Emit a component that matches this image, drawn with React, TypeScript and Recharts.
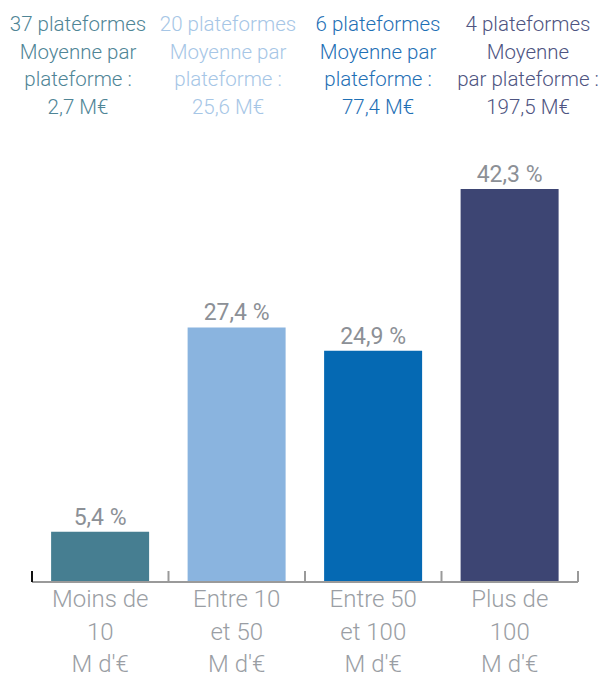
import React from 'react';
import { BarChart, Bar, XAxis, YAxis, Cell, LabelList } from 'recharts';

const CATEGORIES = ["Moins de\n10\nM d'€", "Entre 10\net 50\nM d'€", "Entre 50\net 100\nM d'€", "Plus de\n100\nM d'€"];
const SHARES = [5.4, 27.4, 24.9, 42.3];
const BAR_COLORS = ['#467e91', '#8ab4df', '#0569b3', '#3d4573'];
const HEADER_COLORS = ['#4f8596', '#a6c6e6', '#1f70b5', '#4e5481'];
const HEADER_LINES = [
  ['37 plateformes', 'Moyenne par', 'plateforme :', '2,7 M€'],
  ['20 plateformes', 'Moyenne par', 'plateforme :', '25,6 M€'],
  ['6 plateformes', 'Moyenne par', 'plateforme :', '77,4 M€'],
  ['4 plateformes', 'Moyenne', 'par plateforme :', '197,5 M€'],
];

const FONT = 'Roboto, "Liberation Sans", sans-serif';
const GREY = '#8c9096';
const AXIS_GREY = '#9a9a9a';

const data = CATEGORIES.map((c, i) => ({ cat: c, value: SHARES[i] }));

// label lines plus the small upward ticks at the band edges
const CategoryTick = (props: any) => {
  const { x, y, payload, index, width, visibleTicksCount } = props;
  const band = width / visibleTicksCount;
  const left = x - band / 2;
  const right = x + band / 2;
  const lines = String(payload.value).split('\n');
  return (
    <g>
      <line x1={left} x2={left} y1={y - 11} y2={y} stroke={index === 0 ? '#111' : AXIS_GREY} strokeWidth={2} />
      {index === visibleTicksCount - 1 && (
        <line x1={right} x2={right} y1={y - 11} y2={y} stroke={AXIS_GREY} strokeWidth={2} />
      )}
      <text x={x} y={y} textAnchor="middle" fill="#9a9ea4" fontFamily={FONT} fontWeight={300} fontSize={24}>
        {lines.map((l, i) => (
          <tspan key={i} x={x} dy={i === 0 ? 25 : 32.5}>{l}</tspan>
        ))}
      </text>
    </g>
  );
};

export default function App() {
  return (
    <div style={{ position: 'absolute', left: 0, top: 0, width: 602, height: 679, background: '#fff' }}>
      <div style={{ position: 'absolute', left: 3, top: 11, display: 'flex', fontFamily: FONT, fontWeight: 300, fontSize: 20.5, lineHeight: '27.7px' }}>
        {HEADER_LINES.map((lines, i) => (
          <div key={i} style={{ width: 150, textAlign: 'center', color: HEADER_COLORS[i], whiteSpace: 'nowrap' }}>
            {lines.map((l, j) => <div key={j}>{l}</div>)}
          </div>
        ))}
      </div>
      <BarChart width={602} height={679} data={data} margin={{ top: 164, right: 24, left: 32, bottom: 0 }} barCategoryGap="14%">
        <YAxis hide domain={[0, 45]} />
        <XAxis
          dataKey="cat"
          height={97}
          axisLine={{ stroke: AXIS_GREY, strokeWidth: 2 }}
          tickLine={false}
          tickSize={0}
          tickMargin={0}
          tick={<CategoryTick />}
          interval={0}
        />
        <Bar dataKey="value" isAnimationActive={false}>
          {data.map((d, i) => <Cell key={i} fill={BAR_COLORS[i]} />)}
          <LabelList
            dataKey="value"
            position="top"
            offset={7}
            fill={GREY}
            fontSize={23}
            fontWeight={400}
            fontFamily={FONT}
            formatter={(v: any) => `${Number(v).toFixed(1).replace('.', ',')} %`}
          />
        </Bar>
      </BarChart>
    </div>
  );
}
